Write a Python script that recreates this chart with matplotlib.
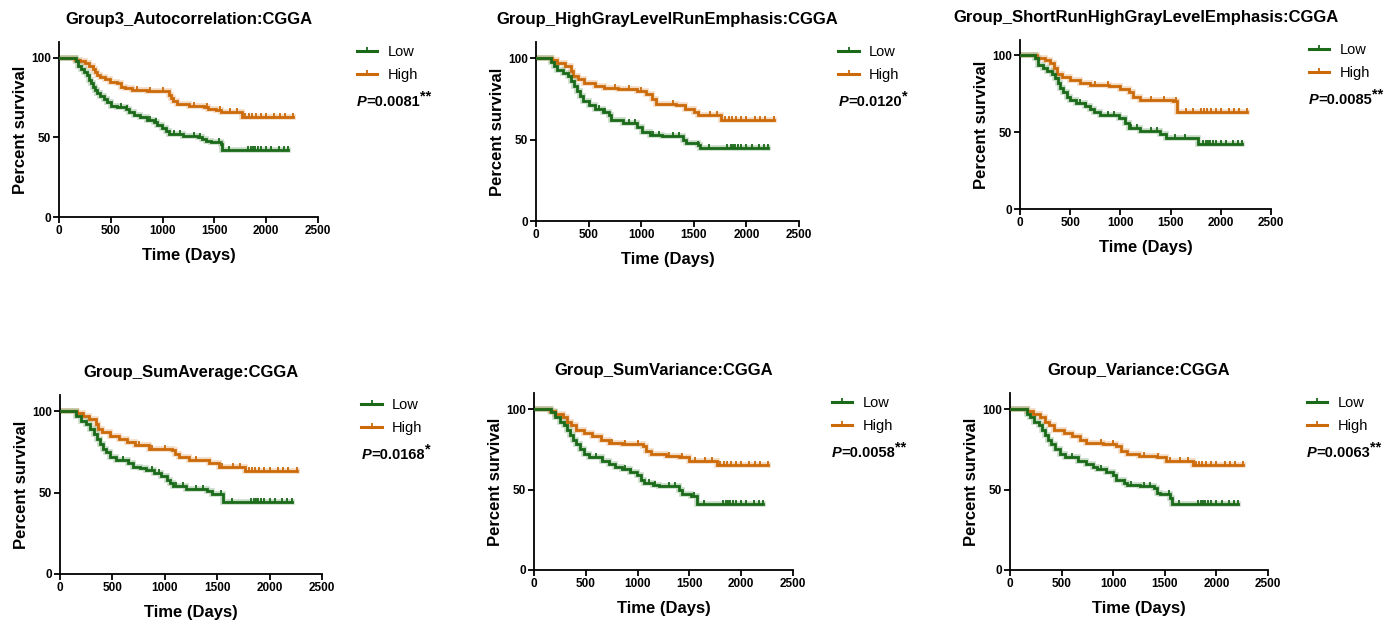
import numpy as np
import matplotlib
matplotlib.use("Agg")
import matplotlib.pyplot as plt
from matplotlib.lines import Line2D

plt.rcParams['font.family'] = ['Liberation Sans', 'DejaVu Sans']

W, H = 1400, 623
GREEN = '#1A6A1A'
ORANGE = '#CC6A0A'

"""
Survival data read off the reference (time in days, percent survival).
Each curve: step times, survival after each step, last follow-up time,
and the censored time points.
"""
titles = ["Group3_Autocorrelation:CGGA",
          "Group_HighGrayLevelRunEmphasis:CGGA",
          "Group_ShortRunHighGrayLevelEmphasis:CGGA",
          "Group_SumAverage:CGGA",
          "Group_SumVariance:CGGA",
          "Group_Variance:CGGA"]
p_values = ["0.0081", "0.0120", "0.0085", "0.0168", "0.0058", "0.0063"]
stars = ["**", "*", "**", "*", "**", "**"]

# Autocorrelation
low_t1 = [0, 160, 180, 210, 240, 270, 290, 310, 330, 350, 370, 400, 430, 460, 500, 560, 650, 680,
          720, 780, 850, 920, 950, 990, 1030, 1060, 1200, 1340, 1380, 1420, 1470, 1560, 1575]
low_s1 = [100, 98, 95, 93, 91, 89, 86, 84, 82, 80, 78, 76, 74, 72, 70, 69, 68, 66,
          64, 63, 61, 60, 58, 56, 54, 52, 51, 50, 49, 48, 47, 46, 42]
high_t1 = [0, 150, 200, 250, 290, 330, 350, 370, 400, 440, 490, 560, 600, 640, 700, 850, 1060,
           1080, 1100, 1140, 1250, 1400, 1440, 1520, 1560, 1770]
high_s1 = [100, 99, 98, 97, 95, 93, 91, 89, 88, 87, 85, 84, 82, 81, 80, 79, 77,
           75, 73, 71, 70, 69, 68, 67, 66, 63]

# HighGrayLevelRunEmphasis
low_t2 = [0, 140, 170, 200, 260, 300, 330, 360, 390, 420, 450, 500, 560, 640, 690, 710, 830,
          960, 1010, 1080, 1200, 1400, 1430, 1540, 1560]
low_s2 = [100, 98, 95, 93, 91, 89, 86, 83, 80, 77, 74, 71, 69, 67, 65, 62, 60,
          58, 55, 53, 52, 50, 48, 47, 45]
high_t2 = [0, 150, 200, 280, 330, 350, 400, 460, 560, 650, 780, 960, 1050, 1100, 1140, 1330,
           1420, 1500, 1540, 1760]
high_s2 = [100, 99, 97, 95, 92, 89, 87, 85, 83, 82, 81, 80, 78, 75, 72, 71,
           69, 67, 65, 62]

# ShortRunHighGrayLevelEmphasis
low_t3 = [0, 150, 180, 230, 270, 320, 350, 380, 400, 430, 470, 500, 560, 650, 700, 740, 800,
          990, 1050, 1090, 1200, 1390, 1450, 1770]
low_s3 = [100, 98, 94, 92, 90, 88, 85, 82, 79, 76, 73, 71, 69, 67, 65, 63, 61,
          59, 56, 53, 51, 49, 46, 42]
high_t3 = [0, 170, 250, 300, 340, 370, 420, 500, 600, 700, 890, 1000, 1090, 1130, 1200, 1520, 1560]
high_s3 = [100, 98, 97, 95, 92, 88, 86, 84, 82, 81, 80, 78, 76, 73, 71, 70, 63]

# SumAverage
low_t4 = [0, 150, 200, 250, 290, 320, 350, 380, 410, 440, 480, 530, 650, 700, 760, 820, 900,
          960, 1020, 1050, 1080, 1200, 1400, 1450, 1560]
low_s4 = [100, 97, 94, 92, 89, 86, 83, 80, 77, 75, 72, 70, 68, 66, 65, 64, 62,
          60, 58, 56, 54, 52, 51, 49, 44]
high_t4 = [0, 160, 220, 280, 340, 360, 400, 480, 560, 640, 720, 850, 1070, 1100, 1140, 1230,
           1420, 1520, 1770]
high_s4 = [100, 99, 97, 95, 92, 89, 87, 85, 83, 81, 79, 77, 76, 74, 72, 70,
           68, 66, 63]

# SumVariance
low_t5 = [0, 160, 200, 250, 290, 320, 350, 380, 410, 440, 480, 530, 660, 720, 780, 850, 930,
          990, 1030, 1060, 1150, 1210, 1400, 1430, 1520, 1570]
low_s5 = [100, 98, 95, 92, 90, 87, 84, 81, 78, 75, 72, 70, 68, 66, 64, 63, 61,
          59, 56, 54, 53, 52, 50, 47, 46, 41]
high_t5 = [0, 150, 200, 280, 320, 360, 410, 480, 560, 650, 720, 850, 1050, 1080, 1130, 1270,
           1400, 1500, 1770]
high_s5 = [100, 99, 97, 95, 92, 90, 87, 85, 83, 81, 79, 78, 77, 74, 72, 71,
           70, 68, 65]

# Variance
low_t6 = [0, 160, 190, 230, 280, 310, 340, 370, 400, 440, 480, 530, 660, 740, 800, 840, 930,
          1000, 1030, 1100, 1130, 1260, 1400, 1420, 1450, 1550, 1565]
low_s6 = [100, 97, 95, 92, 90, 87, 84, 81, 78, 75, 72, 70, 68, 66, 64, 63, 61,
          59, 56, 54, 53, 52, 51, 48, 47, 45, 41]
high_t6 = [0, 160, 220, 290, 340, 380, 430, 520, 600, 680, 740, 900, 1030, 1080, 1130, 1250,
           1420, 1510, 1770]
high_s6 = [100, 99, 97, 95, 92, 90, 87, 85, 83, 81, 79, 78, 77, 74, 72, 71,
           70, 68, 65]

low_end = 2210
high_end = 2260
low_censor = [600, 660, 880, 940, 1110, 1170, 1300, 1360, 1540, 1640, 1820, 1850, 1870,
              1890, 1920, 1950, 2000, 2050, 2120, 2170, 2210]
high_censor = [750, 880, 1000, 1300, 1430, 1550, 1650, 1720, 1800, 1830, 1860, 1900,
               1950, 2000, 2080, 2130, 2180, 2260]

low_times = [low_t1, low_t2, low_t3, low_t4, low_t5, low_t6]
low_surv = [low_s1, low_s2, low_s3, low_s4, low_s5, low_s6]
high_times = [high_t1, high_t2, high_t3, high_t4, high_t5, high_t6]
high_surv = [high_s1, high_s2, high_s3, high_s4, high_s5, high_s6]

# axes boxes in pixels: left, right (x=2500), top, bottom (y=0)
boxes = [(59, 318, 42, 217), (536, 799, 42, 221), (1020, 1271, 40, 209),
         (60, 322, 395, 574), (534, 793, 393, 570), (1010, 1268, 393, 570)]


def km_curve(ax, t, s, end, censor, color):
    x = np.append(t, end)
    y = np.append(s, s[-1])
    ax.plot(x, y, drawstyle='steps-post', color=color, lw=4, alpha=0.25,
            solid_joinstyle='miter', zorder=2)
    ax.plot(x, y, drawstyle='steps-post', color=color, lw=2.0,
            solid_joinstyle='miter', zorder=3)
    ct = np.array(censor)
    idx = np.searchsorted(t, ct, side='right') - 1
    cy = np.array(s)[idx]
    ax.plot(ct, cy, ls='none', marker=2, color=color, markersize=3,
            markeredgewidth=1.3, zorder=3)


fig = plt.figure(figsize=(W / 100, H / 100), dpi=100)

for i in range(6):
    l, r, t, b = boxes[i]
    ax = fig.add_axes([l / W, 1 - b / H, (r - l) / W, (b - t) / H])
    km_curve(ax, high_times[i], high_surv[i], high_end, high_censor, ORANGE)
    km_curve(ax, low_times[i], low_surv[i], low_end, low_censor, GREEN)

    ax.set_xlim(0, 2500)
    ax.set_ylim(0, 110)
    ax.set_xticks([0, 500, 1000, 1500, 2000, 2500])
    ax.set_yticks([0, 50, 100])
    for sp in ['top', 'right']:
        ax.spines[sp].set_visible(False)
    for sp in ['left', 'bottom']:
        ax.spines[sp].set_linewidth(1.3)
    ax.tick_params(direction='out', length=4.5, width=1.3, labelsize=8.5, pad=1.5)
    for lab in ax.get_xticklabels() + ax.get_yticklabels():
        lab.set_fontweight('bold')
    ax.set_title(titles[i], fontsize=12, fontweight='bold', pad=13)
    ax.set_xlabel('Time (Days)', fontsize=12, fontweight='bold', labelpad=8)
    ax.set_ylabel('Percent survival', fontsize=12, fontweight='bold', labelpad=2)

    hpx = b - t
    handles = [Line2D([], [], color=GREEN, lw=2.2, marker=2, markersize=3, markeredgewidth=1.3),
               Line2D([], [], color=ORANGE, lw=2.2, marker=2, markersize=3, markeredgewidth=1.3)]
    ax.legend(handles, ['Low', 'High'], loc='upper left',
              bbox_to_anchor=(1.15, 1 - 3 / hpx), frameon=False, fontsize=10.5,
              handlelength=1.4, handletextpad=0.7, labelspacing=0.62,
              borderpad=0, borderaxespad=0, numpoints=1)

    ty = 1 - 60 / hpx
    t1 = ax.text(1.15, ty, 'P', transform=ax.transAxes, fontsize=10.5,
                 fontweight='bold', fontstyle='italic', va='center', ha='left')
    t2 = ax.annotate('=' + p_values[i], xy=(1, 0), xycoords=t1, fontsize=10.5,
                     fontweight='bold', va='bottom', ha='left')
    ax.annotate(stars[i], xy=(1, 0.4), xycoords=t2, fontsize=10.5,
                fontweight='bold', va='bottom', ha='left')

fig.savefig('out.png', dpi=100)
